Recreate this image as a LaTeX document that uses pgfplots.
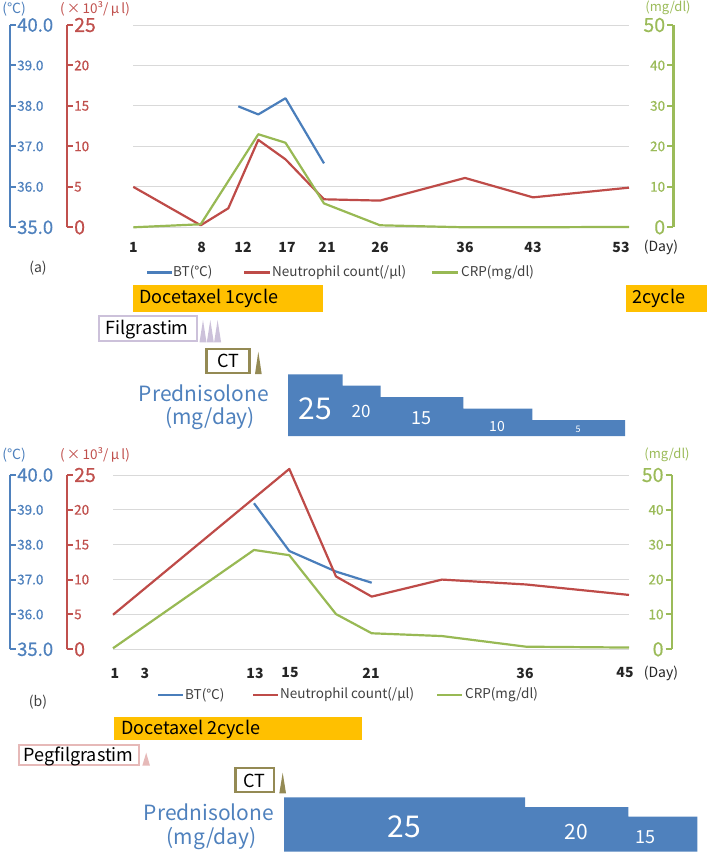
\documentclass[border=0pt]{standalone}
\usepackage{fontspec}
\setmainfont{Noto Sans CJK JP}
\newfontfamily\medfont[FakeBold=0.5]{Noto Sans CJK JP}
\usepackage{pgfplots}
\pgfplotsset{compat=1.18}

\definecolor{cBT}{HTML}{4A7EBB}
\definecolor{cNE}{HTML}{BE4B48}
\definecolor{cCRP}{HTML}{98B954}
\definecolor{aBT}{HTML}{4F81BD}
\definecolor{aNE}{HTML}{C0504D}
\definecolor{aCRP}{HTML}{9BBB59}
\definecolor{cGrid}{HTML}{D9D9D9}
\definecolor{cDoc}{HTML}{FFC000}
\definecolor{cFil}{HTML}{CCC1DA}
\definecolor{cPeg}{HTML}{E6B9B8}
\definecolor{cCT}{HTML}{948A54}
\definecolor{cPred}{HTML}{4F81BD}
\definecolor{cTxt}{HTML}{404040}

\newcommand{\fs}[1]{\fontsize{#1}{#1}\selectfont}

\pgfplotsset{
  series/.style={line width=2.2pt, line join=round, mark=none},
  overlay/.style={scale only axis, hide axis, clip=false},
  scaleaxis/.style={scale only axis, width=1pt, xmin=0, xmax=1, axis x line=none,
     tick align=outside, major tick length=6pt, clip=false,
     yticklabel style={font=\medfont\fs{13.5}, inner sep=0pt}},
  geomA/.style={width=495.7pt, height=202.3pt, at={(133.3pt,-227.3pt)},
     anchor=south west, xmin=133.3, xmax=629},
  geomB/.style={width=516pt, height=174.3pt, at={(113pt,-649.3pt)},
     anchor=south west, xmin=113, xmax=629},
  timeaxis/.style={scale only axis, clip=false, axis line style={draw=none},
     major tick length=0pt, ymajorgrids, grid style={cGrid, line width=1pt},
     ytick={35,36,...,40}, yticklabels={},
     xticklabel style={font=\bfseries\fs{14}, text=black!85, anchor=center, inner sep=0pt}},
  blueaxis/.style={scaleaxis, ymin=35, ymax=40, axis y line*=right,
     axis line style={aBT, line width=2.4pt}, tick style={aBT, line width=2pt},
     ytick={35,36,...,40}, yticklabel style={text=aBT, anchor=west, xshift=1pt},
     yticklabels={{\fs{18.5}35.0},36.0,37.0,38.0,39.0,{\fs{18.5}40.0}}},
  redaxis/.style={scaleaxis, ymin=0, ymax=25, axis y line*=right,
     axis line style={aNE, line width=2.4pt}, tick style={aNE, line width=2pt},
     ytick={0,5,...,25}, yticklabel style={text=aNE, anchor=west, xshift=1pt},
     yticklabels={{\fs{19.5}0},5,10,15,20,{\fs{19.5}25}}},
  greenaxis/.style={scaleaxis, ymin=0, ymax=50, axis y line*=left,
     axis line style={aCRP, line width=2.4pt}, tick style={aCRP, line width=2pt},
     ytick={0,10,...,50}, yticklabel style={text=aCRP, anchor=east, xshift=-2pt},
     yticklabels={{\fs{19.5}0},10,20,30,40,{\fs{19.5}50}}},
}

\begin{document}
\begin{tikzpicture}
\useasboundingbox (0,0) rectangle (709pt,-854pt);

%% ---------------- panel (a): time courses ----------------
\begin{axis}[timeaxis, geomA, ymin=35, ymax=40,
  xtick={133.3,201.7,243,287,327,380,465,533,621},
  xticklabels={1,8,12,17,21,26,36,43,53},
  xticklabel style={yshift=-19.7pt}]
  % body temperature (deg C)
  \addplot[series, cBT] coordinates {(238.3,37.99) (258.3,37.79) (285.5,38.19) (324,36.58)};
\end{axis}
\begin{axis}[overlay, geomA, ymin=0, ymax=25]
  % neutrophil count (x10^3/ul)
  \addplot[series, cNE] coordinates {(133.3,5.0) (200.7,0.25) (228.3,2.35) (258.3,10.8)
     (285.5,8.4) (324,3.46) (380,3.3) (465,6.1) (533,3.7) (629,4.9)};
\end{axis}
\begin{axis}[overlay, geomA, ymin=0, ymax=50]
  % CRP (mg/dl)
  \addplot[series, cCRP] coordinates {(133.3,0) (200.7,0.75) (258.3,23.0) (285.5,20.9)
     (324,5.9) (380,0.5) (465,0) (533,0) (629,0.1)};
\end{axis}
\begin{axis}[blueaxis, height=202.3pt, at={(9pt,-227.3pt)}, anchor=south west]
\end{axis}
\begin{axis}[redaxis, height=202.3pt, at={(66pt,-227.3pt)}, anchor=south west]
\end{axis}
\begin{axis}[greenaxis, height=202.3pt, at={(673.3pt,-227.3pt)}, anchor=south west]
\end{axis}

%% prednisolone dose steps (a)
\begin{axis}[overlay, width=337pt, height=61.7pt, at={(288pt,-436pt)}, anchor=south west,
  xmin=288, xmax=625, ymin=-2, ymax=25]
  \addplot[fill=cPred, draw=none] coordinates {(288,-2) (288,25) (342.7,25) (342.7,20)
     (380.7,20) (380.7,15) (463.3,15) (463.3,10) (532.3,10) (532.3,5) (625,5) (625,-2)} -- cycle;
  \node[white, font=\fs{30}] at (315,10.1) {25};
  \node[white, font=\fs{17}] at (361,8.6) {20};
  \node[white, font=\fs{18}] at (421,5.7) {15};
  \node[white, font=\fs{14}] at (497,2.1) {10};
  \node[white, font=\fs{9}] at (578,1.1) {5};
\end{axis}

%% ---------------- panel (b): time courses ----------------
\begin{axis}[timeaxis, geomB, ymin=35, ymax=40,
  xtick={115,145,255,290,371,525,625},
  xticklabels={1,3,13,15,21,36,45},
  xticklabel style={yshift=-23.7pt}]
  \addplot[series, cBT] coordinates {(254,39.19) (289.3,37.82) (336,37.23) (371.7,36.91)};
\end{axis}
\begin{axis}[overlay, geomB, ymin=0, ymax=25]
  \addplot[series, cNE] coordinates {(113,4.95) (289.3,25.87) (336,10.45) (371.7,7.56)
     (442,10.0) (526,9.3) (629,7.8)};
\end{axis}
\begin{axis}[overlay, geomB, ymin=0, ymax=50]
  \addplot[series, cCRP] coordinates {(113,0.3) (254,28.5) (289.3,27.0) (336,10.1)
     (371.7,4.6) (442,3.8) (526,0.75) (629,0.5)};
\end{axis}
\begin{axis}[blueaxis, height=174.3pt, at={(9pt,-649.3pt)}, anchor=south west]
\end{axis}
\begin{axis}[redaxis, height=174.3pt, at={(66pt,-649.3pt)}, anchor=south west]
\end{axis}
\begin{axis}[greenaxis, height=174.3pt, at={(671.7pt,-649.3pt)}, anchor=south west]
\end{axis}

%% prednisolone dose steps (b)
\begin{axis}[overlay, width=413.3pt, height=54.4pt, at={(284pt,-851.7pt)}, anchor=south west,
  xmin=284, xmax=697.3, ymin=-3, ymax=25]
  \addplot[fill=cPred, draw=none] coordinates {(284,-3) (284,25) (525,25) (525,20)
     (628.3,20) (628.3,15) (697.3,15) (697.3,-3)} -- cycle;
  \node[white, font=\fs{30}] at (404,9.9) {25};
  \node[white, font=\fs{21}] at (576,7.3) {20};
  \node[white, font=\fs{18}] at (645,4.7) {15};
\end{axis}

%% ---------------- labels, legends and treatment timeline ----------------
\begin{axis}[overlay, width=709pt, height=854pt, at={(0pt,0pt)}, anchor=north west,
  xmin=0, xmax=709, ymin=0, ymax=854, y dir=reverse]
  % units (a)
  \node[aBT, font=\fs{14}] at (14,9) {(℃)};
  \node[aNE, font=\fs{13.5}] at (95,9) {(\,×\,10³/\,μ\,l)};
  \node[aCRP, font=\fs{13}, inner sep=0pt] at (668,8) {(mg/dl)};
  \node[black!85, font=\fs{14}] at (661,247) {(Day)};
  \node[cTxt, font=\fs{14}] at (38,268) {(a)};
  % legend (a)
  \draw[cBT, line width=2.2pt] (147,272.5) -- (172,272.5);
  \node[cTxt, font=\fs{13.5}, anchor=west, inner sep=0pt] at (173,272.5) {BT(℃)};
  \draw[cNE, line width=2.2pt] (244,272.5) -- (270,272.5);
  \node[cTxt, font=\fs{13.5}, anchor=west, inner sep=0pt] at (272,272.5) {Neutrophil count(/μl)};
  \draw[cCRP, line width=2.2pt] (432,272.5) -- (458,272.5);
  \node[cTxt, font=\fs{13.5}, anchor=west, inner sep=0pt] at (461,272.5) {CRP(mg/dl)};
  % treatment (a)
  \fill[cDoc] (132.7,285) rectangle (323.3,311.7);
  \node[black, font=\fs{18}, anchor=west, inner sep=0pt] at (139,298.5) {Docetaxel 1cycle};
  \fill[cDoc] (626,285) rectangle (706.7,311.7);
  \node[black, font=\fs{18}, anchor=west, inner sep=0pt] at (632,298.5) {2cycle};
  \draw[cFil, line width=2pt, fill=white] (99.3,316) rectangle (197.3,341.3);
  \node[black, font=\fs{18}] at (147,329.5) {Filgrastim};
  \fill[cFil] (199.5,342.3) -- (203,320) -- (206.5,342.3) -- cycle;
  \fill[cFil] (206.8,342.3) -- (210.3,320) -- (213.8,342.3) -- cycle;
  \fill[cFil] (214.1,342.3) -- (217.6,320) -- (221.1,342.3) -- cycle;
  \draw[cCT, line width=2.6pt, fill=white] (206.2,348.9) rectangle (249.5,372.8);
  \node[black, font=\fs{18}] at (228,361) {CT};
  \fill[cCT] (255,374) -- (258.3,351.7) -- (261.7,374) -- cycle;
  \node[aBT, font=\fs{21}] at (204,393) {Prednisolone};
  \node[aBT, font=\fs{21}] at (210,419) {(mg/day)};

  % units (b)
  \node[aBT, font=\fs{14}] at (14,455) {(℃)};
  \node[aNE, font=\fs{13.5}] at (95,455) {(\,×\,10³/\,μ\,l)};
  \node[aCRP, font=\fs{13}, inner sep=0pt] at (667,455) {(mg/dl)};
  \node[black!85, font=\fs{14}] at (661,673) {(Day)};
  \node[cTxt, font=\fs{14}] at (38,701.7) {(b)};
  % legend (b)
  \draw[cBT, line width=2.2pt] (158,695) -- (183,695);
  \node[cTxt, font=\fs{13.5}, anchor=west, inner sep=0pt] at (185,695) {BT(℃)};
  \draw[cNE, line width=2.2pt] (253,695) -- (278,695);
  \node[cTxt, font=\fs{13.5}, anchor=west, inner sep=0pt] at (280,695) {Neutrophil count(/μl)};
  \draw[cCRP, line width=2.2pt] (437,695) -- (462,695);
  \node[cTxt, font=\fs{13.5}, anchor=west, inner sep=0pt] at (465,695) {CRP(mg/dl)};
  % treatment (b)
  \fill[cDoc] (114.3,716.7) rectangle (362.3,740);
  \node[black, font=\fs{18}, anchor=west, inner sep=0pt] at (121,729.5) {Docetaxel 2cycle};
  \draw[cPeg, line width=2pt, fill=white] (19.3,745) rectangle (139,764.7);
  \node[black, font=\fs{18}] at (78.5,756) {Pegfilgrastim};
  \fill[cPeg] (142.3,765.7) -- (146.2,752.7) -- (150,765.7) -- cycle;
  \draw[cCT, line width=2.6pt, fill=white] (235.2,767.9) rectangle (274.1,792.1);
  \node[black, font=\fs{18}] at (254.7,780.5) {CT};
  \fill[cCT] (279.3,793.3) -- (282.7,772.7) -- (286,793.3) -- cycle;
  \node[aBT, font=\fs{21}] at (209,812.3) {Prednisolone};
  \node[aBT, font=\fs{21}] at (211.7,839) {(mg/day)};
\end{axis}
\end{tikzpicture}
\end{document}
